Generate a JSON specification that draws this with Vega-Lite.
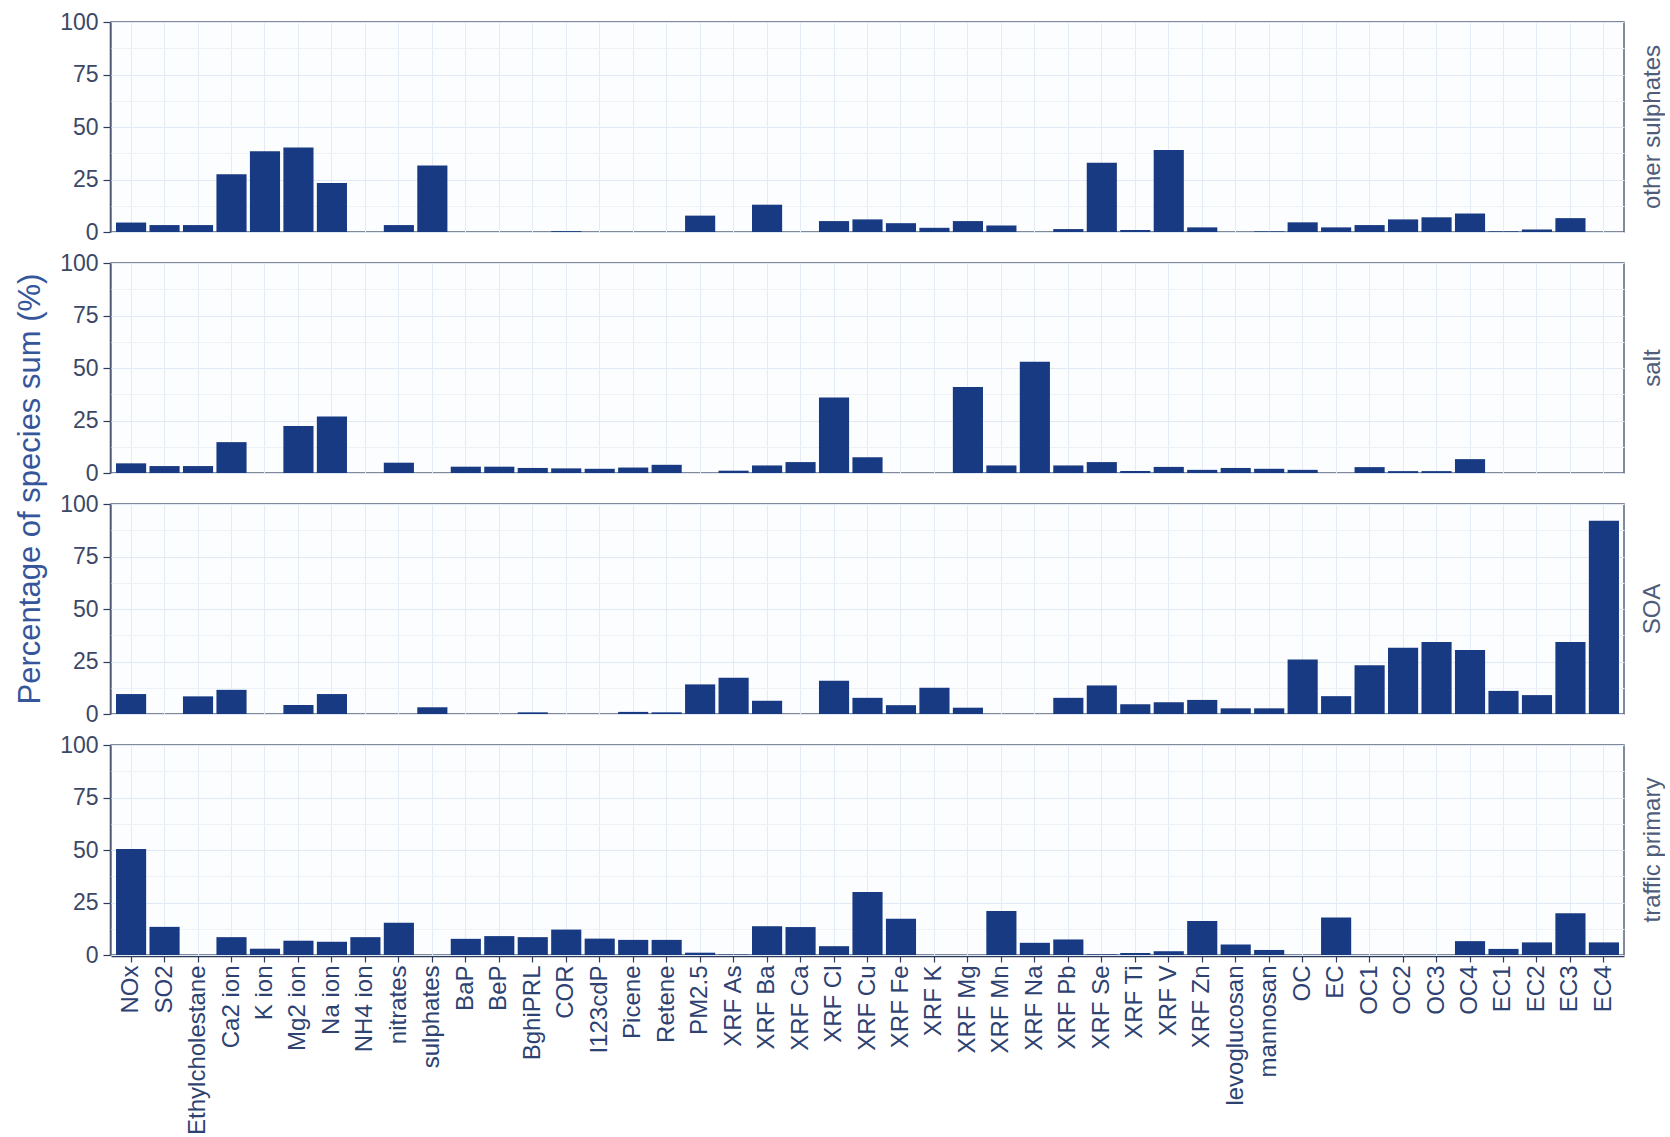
{
  "$schema": "https://vega.github.io/schema/vega-lite/v6.json",
  "padding": {"left": 14, "top": 11, "right": 0, "bottom": 0},
  "background": "white",
  "data": {"values": [
    {"source":"other sulphates","species":"NOx","pct":4.5},{"source":"other sulphates","species":"SO2","pct":3.3},{"source":"other sulphates","species":"Ethylcholestane","pct":3.3},{"source":"other sulphates","species":"Ca2 ion","pct":27.5},{"source":"other sulphates","species":"K ion","pct":38.5},{"source":"other sulphates","species":"Mg2 ion","pct":40.2},{"source":"other sulphates","species":"Na ion","pct":23.3},{"source":"other sulphates","species":"NH4 ion","pct":0},{"source":"other sulphates","species":"nitrates","pct":3.3},{"source":"other sulphates","species":"sulphates","pct":31.7},{"source":"other sulphates","species":"BaP","pct":0},{"source":"other sulphates","species":"BeP","pct":0},{"source":"other sulphates","species":"BghiPRL","pct":0},{"source":"other sulphates","species":"COR","pct":0.4},{"source":"other sulphates","species":"I123cdP","pct":0},{"source":"other sulphates","species":"Picene","pct":0},{"source":"other sulphates","species":"Retene","pct":0},{"source":"other sulphates","species":"PM2.5","pct":7.8},{"source":"other sulphates","species":"XRF As","pct":0},{"source":"other sulphates","species":"XRF Ba","pct":13},{"source":"other sulphates","species":"XRF Ca","pct":0},{"source":"other sulphates","species":"XRF Cl","pct":5.2},{"source":"other sulphates","species":"XRF Cu","pct":6},{"source":"other sulphates","species":"XRF Fe","pct":4.2},{"source":"other sulphates","species":"XRF K","pct":2},{"source":"other sulphates","species":"XRF Mg","pct":5.2},{"source":"other sulphates","species":"XRF Mn","pct":3.1},{"source":"other sulphates","species":"XRF Na","pct":0},{"source":"other sulphates","species":"XRF Pb","pct":1.4},{"source":"other sulphates","species":"XRF Se","pct":33},{"source":"other sulphates","species":"XRF Ti","pct":1},{"source":"other sulphates","species":"XRF V","pct":39},{"source":"other sulphates","species":"XRF Zn","pct":2.2},{"source":"other sulphates","species":"levoglucosan","pct":0},{"source":"other sulphates","species":"mannosan","pct":0.3},{"source":"other sulphates","species":"OC","pct":4.6},{"source":"other sulphates","species":"EC","pct":2.2},{"source":"other sulphates","species":"OC1","pct":3.3},{"source":"other sulphates","species":"OC2","pct":6},{"source":"other sulphates","species":"OC3","pct":7},{"source":"other sulphates","species":"OC4","pct":8.8},{"source":"other sulphates","species":"EC1","pct":0.3},{"source":"other sulphates","species":"EC2","pct":1.2},{"source":"other sulphates","species":"EC3","pct":6.6},{"source":"other sulphates","species":"EC4","pct":0},
    {"source":"salt","species":"NOx","pct":4.6},{"source":"salt","species":"SO2","pct":3.3},{"source":"salt","species":"Ethylcholestane","pct":3.3},{"source":"salt","species":"Ca2 ion","pct":14.7},{"source":"salt","species":"K ion","pct":0},{"source":"salt","species":"Mg2 ion","pct":22.4},{"source":"salt","species":"Na ion","pct":26.9},{"source":"salt","species":"NH4 ion","pct":0},{"source":"salt","species":"nitrates","pct":4.9},{"source":"salt","species":"sulphates","pct":0},{"source":"salt","species":"BaP","pct":3},{"source":"salt","species":"BeP","pct":3},{"source":"salt","species":"BghiPRL","pct":2.4},{"source":"salt","species":"COR","pct":2.2},{"source":"salt","species":"I123cdP","pct":2},{"source":"salt","species":"Picene","pct":2.6},{"source":"salt","species":"Retene","pct":3.9},{"source":"salt","species":"PM2.5","pct":0},{"source":"salt","species":"XRF As","pct":1.1},{"source":"salt","species":"XRF Ba","pct":3.6},{"source":"salt","species":"XRF Ca","pct":5.2},{"source":"salt","species":"XRF Cl","pct":36},{"source":"salt","species":"XRF Cu","pct":7.5},{"source":"salt","species":"XRF Fe","pct":0},{"source":"salt","species":"XRF K","pct":0},{"source":"salt","species":"XRF Mg","pct":41},{"source":"salt","species":"XRF Mn","pct":3.6},{"source":"salt","species":"XRF Na","pct":53},{"source":"salt","species":"XRF Pb","pct":3.6},{"source":"salt","species":"XRF Se","pct":5.2},{"source":"salt","species":"XRF Ti","pct":1},{"source":"salt","species":"XRF V","pct":2.9},{"source":"salt","species":"XRF Zn","pct":1.5},{"source":"salt","species":"levoglucosan","pct":2.4},{"source":"salt","species":"mannosan","pct":2},{"source":"salt","species":"OC","pct":1.5},{"source":"salt","species":"EC","pct":0},{"source":"salt","species":"OC1","pct":2.8},{"source":"salt","species":"OC2","pct":0.9},{"source":"salt","species":"OC3","pct":0.9},{"source":"salt","species":"OC4","pct":6.6},{"source":"salt","species":"EC1","pct":0},{"source":"salt","species":"EC2","pct":0},{"source":"salt","species":"EC3","pct":0},{"source":"salt","species":"EC4","pct":0},
    {"source":"SOA","species":"NOx","pct":9.5},{"source":"SOA","species":"SO2","pct":0},{"source":"SOA","species":"Ethylcholestane","pct":8.4},{"source":"SOA","species":"Ca2 ion","pct":11.5},{"source":"SOA","species":"K ion","pct":0},{"source":"SOA","species":"Mg2 ion","pct":4.3},{"source":"SOA","species":"Na ion","pct":9.5},{"source":"SOA","species":"NH4 ion","pct":0},{"source":"SOA","species":"nitrates","pct":0},{"source":"SOA","species":"sulphates","pct":3.2},{"source":"SOA","species":"BaP","pct":0},{"source":"SOA","species":"BeP","pct":0},{"source":"SOA","species":"BghiPRL","pct":0.8},{"source":"SOA","species":"COR","pct":0},{"source":"SOA","species":"I123cdP","pct":0},{"source":"SOA","species":"Picene","pct":1},{"source":"SOA","species":"Retene","pct":0.8},{"source":"SOA","species":"PM2.5","pct":14.1},{"source":"SOA","species":"XRF As","pct":17.3},{"source":"SOA","species":"XRF Ba","pct":6.3},{"source":"SOA","species":"XRF Ca","pct":0},{"source":"SOA","species":"XRF Cl","pct":15.8},{"source":"SOA","species":"XRF Cu","pct":7.7},{"source":"SOA","species":"XRF Fe","pct":4.2},{"source":"SOA","species":"XRF K","pct":12.5},{"source":"SOA","species":"XRF Mg","pct":3},{"source":"SOA","species":"XRF Mn","pct":0},{"source":"SOA","species":"XRF Na","pct":0},{"source":"SOA","species":"XRF Pb","pct":7.7},{"source":"SOA","species":"XRF Se","pct":13.6},{"source":"SOA","species":"XRF Ti","pct":4.7},{"source":"SOA","species":"XRF V","pct":5.6},{"source":"SOA","species":"XRF Zn","pct":6.7},{"source":"SOA","species":"levoglucosan","pct":2.7},{"source":"SOA","species":"mannosan","pct":2.7},{"source":"SOA","species":"OC","pct":25.9},{"source":"SOA","species":"EC","pct":8.5},{"source":"SOA","species":"OC1","pct":23.2},{"source":"SOA","species":"OC2","pct":31.6},{"source":"SOA","species":"OC3","pct":34.3},{"source":"SOA","species":"OC4","pct":30.5},{"source":"SOA","species":"EC1","pct":11},{"source":"SOA","species":"EC2","pct":9},{"source":"SOA","species":"EC3","pct":34.3},{"source":"SOA","species":"EC4","pct":92},
    {"source":"traffic primary","species":"NOx","pct":50.5},{"source":"traffic primary","species":"SO2","pct":13.4},{"source":"traffic primary","species":"Ethylcholestane","pct":0},{"source":"traffic primary","species":"Ca2 ion","pct":8.5},{"source":"traffic primary","species":"K ion","pct":3},{"source":"traffic primary","species":"Mg2 ion","pct":6.8},{"source":"traffic primary","species":"Na ion","pct":6.3},{"source":"traffic primary","species":"NH4 ion","pct":8.5},{"source":"traffic primary","species":"nitrates","pct":15.3},{"source":"traffic primary","species":"sulphates","pct":0},{"source":"traffic primary","species":"BaP","pct":7.7},{"source":"traffic primary","species":"BeP","pct":9},{"source":"traffic primary","species":"BghiPRL","pct":8.5},{"source":"traffic primary","species":"COR","pct":12.1},{"source":"traffic primary","species":"I123cdP","pct":7.8},{"source":"traffic primary","species":"Picene","pct":7.2},{"source":"traffic primary","species":"Retene","pct":7.2},{"source":"traffic primary","species":"PM2.5","pct":1.1},{"source":"traffic primary","species":"XRF As","pct":0.2},{"source":"traffic primary","species":"XRF Ba","pct":13.7},{"source":"traffic primary","species":"XRF Ca","pct":13.3},{"source":"traffic primary","species":"XRF Cl","pct":4.2},{"source":"traffic primary","species":"XRF Cu","pct":30},{"source":"traffic primary","species":"XRF Fe","pct":17.3},{"source":"traffic primary","species":"XRF K","pct":0},{"source":"traffic primary","species":"XRF Mg","pct":0},{"source":"traffic primary","species":"XRF Mn","pct":21},{"source":"traffic primary","species":"XRF Na","pct":5.8},{"source":"traffic primary","species":"XRF Pb","pct":7.4},{"source":"traffic primary","species":"XRF Se","pct":0.3},{"source":"traffic primary","species":"XRF Ti","pct":1},{"source":"traffic primary","species":"XRF V","pct":1.8},{"source":"traffic primary","species":"XRF Zn","pct":16.2},{"source":"traffic primary","species":"levoglucosan","pct":5},{"source":"traffic primary","species":"mannosan","pct":2.4},{"source":"traffic primary","species":"OC","pct":0},{"source":"traffic primary","species":"EC","pct":17.8},{"source":"traffic primary","species":"OC1","pct":0},{"source":"traffic primary","species":"OC2","pct":0},{"source":"traffic primary","species":"OC3","pct":0},{"source":"traffic primary","species":"OC4","pct":6.6},{"source":"traffic primary","species":"EC1","pct":2.9},{"source":"traffic primary","species":"EC2","pct":6},{"source":"traffic primary","species":"EC3","pct":19.9},{"source":"traffic primary","species":"EC4","pct":6}
  ]},
  "facet": {
    "row": {
      "field": "source", "type": "nominal",
      "sort": ["other sulphates", "salt", "SOA", "traffic primary"],
      "header": {
        "title": "Percentage of species sum (%)", "titleOrient": "left", "titleAngle": -90, "titleFontSize": 31, "titleFontWeight": "normal", "titleColor": "#35569a", "titleFont": "Liberation Sans", "titlePadding": -29,
        "labelOrient": "right", "labelAngle": -90, "labelFontSize": 24, "labelColor": "#4f5d7a", "labelFont": "Liberation Sans", "labelPadding": 4
      }
    }
  },
  "spacing": {"row": 29},
  "spec": {
    "width": 1513,
    "height": 210,
    "mark": {"type": "bar", "color": "#183a82"},
    "encoding": {
      "x": {
        "field": "species", "type": "nominal",
        "sort": ["NOx","SO2","Ethylcholestane","Ca2 ion","K ion","Mg2 ion","Na ion","NH4 ion","nitrates","sulphates","BaP","BeP","BghiPRL","COR","I123cdP","Picene","Retene","PM2.5","XRF As","XRF Ba","XRF Ca","XRF Cl","XRF Cu","XRF Fe","XRF K","XRF Mg","XRF Mn","XRF Na","XRF Pb","XRF Se","XRF Ti","XRF V","XRF Zn","levoglucosan","mannosan","OC","EC","OC1","OC2","OC3","OC4","EC1","EC2","EC3","EC4"],
        "scale": {"paddingInner": 0.1, "paddingOuter": 0.15},
        "axis": {"title": null, "labelAngle": -90, "labelFontSize": 24, "labelColor": "#2e4272", "labelFont": "Liberation Sans", "grid": true, "gridColor": "#e3ebf5", "gridWidth": 1, "bandPosition": 0.5, "tickSize": 6, "tickColor": "#2c3a5c", "tickWidth": 1.2, "domainColor": "#2c3a5c", "domainWidth": 1.5, "labelPadding": 3}
      },
      "y": {
        "field": "pct", "type": "quantitative",
        "scale": {"domain": [0, 100], "nice": false},
        "axis": {
          "title": null,
          "values": [0, 12.5, 25, 37.5, 50, 62.5, 75, 87.5, 100],
          "labelExpr": "datum.value % 25 === 0 ? datum.label : ''",
          "tickOpacity": {"condition": {"test": "datum.value % 25 === 0", "value": 1}, "value": 0},
          "gridColor": {"condition": {"test": "datum.value % 25 === 0", "value": "#e1e9f4"}, "value": "#edf2f8"},
          "gridWidth": 1,
          "labelFontSize": 23, "labelColor": "#3b4866", "labelFont": "Liberation Sans",
          "tickSize": 7, "tickColor": "#2c3a5c", "tickWidth": 1.2, "labelPadding": 5,
          "domainColor": "#2c3a5c", "domainWidth": 1.5
        }
      }
    }
  },
  "config": {
    "view": {"stroke": "#5a6379", "strokeWidth": 1.5, "fill": "#fbfdff"},
    "font": "Liberation Sans"
  }
}
